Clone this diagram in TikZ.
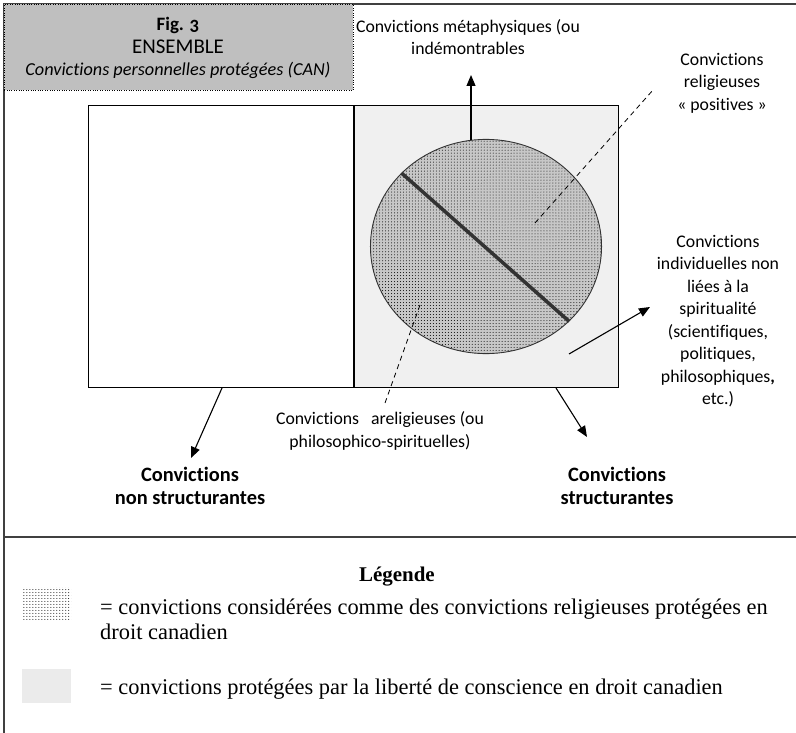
\documentclass[tikz,border=0pt]{standalone}
\usepackage{fontspec}
\setmainfont{Liberation Serif}
\setsansfont[Ligatures=NoCommon]{Carlito}
\usetikzlibrary{patterns}
\usetikzlibrary{shapes.geometric}
\usetikzlibrary{arrows.meta}

\tikzset{
  txt/.style={font=\sffamily\fontsize{17.8}{22.6}\selectfont,align=center,inner sep=0pt},
  bigtxt/.style={font=\sffamily\bfseries\fontsize{20.5}{23}\selectfont,align=center,inner sep=0pt},
  legtxt/.style={font=\rmfamily\fontsize{22.5}{25}\selectfont,align=left,inner sep=0pt,anchor=west},
  arr/.style={-{Triangle[length=11bp,width=9bp]},line width=1.1bp},
  hint/.style={dashed,line width=0.8bp,dash pattern=on 5bp off 4bp},
  dotsfill/.style={preaction={fill=black!22},pattern=dots,pattern color=black}
}

\begin{document}
\begin{tikzpicture}[x=1bp,y=-1bp]
  \useasboundingbox (0,0) rectangle (796,733);

  %frame
  \draw[line width=1.3bp,black!75] (4,733) -- (4,4) -- (796,4);
  \draw[line width=1.3bp,black!75] (4,537) -- (796,537);

  %title box
  \node[draw,dotted,fill=black!25,minimum width=350,minimum height=86,anchor=north west,inner sep=0pt] (title) at (4,4) {};
  \node[txt,font=\sffamily\bfseries\fontsize{19}{20}\selectfont] (fig) at (178,25) {Fig. {\addfontfeatures{Numbers=OldStyle}3}};
  \node[txt,font=\sffamily\fontsize{21}{20}\selectfont] (ens) at (178,47) {ENSEMBLE};
  \node[txt,font=\sffamily\itshape\fontsize{18.3}{20}\selectfont] (can) at (178,70) {Convictions personnelles protégées (CAN)};

  %left box
  \node[draw,line width=1.2bp,minimum width=266,minimum height=283,anchor=north west,inner sep=0pt] (nonstruct) at (88,105) {};

  %right box
  \node[draw,line width=1.2bp,fill=black!6,minimum width=265,minimum height=283,anchor=north west,inner sep=0pt] (struct) at (354,105) {};

  %circle
  \node[ellipse,draw,line width=0.9bp,black!80,dotsfill,minimum width=232,minimum height=215,inner sep=0pt] (ell) at (486,246.5) {};
  \draw[line width=3.5bp,black!80] (ell.139) -- (ell.-42);

  %labels
  \node[txt] (meta) at (468,37) {Convictions métaphysiques (ou\\indémontrables};
  \node[txt] (relig) at (722,83) {Convictions\\religieuses\\« positives »};
  \node[txt] (indiv) at (718,321) {Convictions\\individuelles non\\liées à la\\spiritualité\\(scientifiques,\\politiques,\\philosophiques\textbf{,}\\etc.)};
  \node[txt] (arelig) at (380,431) {Convictions\ \ \ areligieuses (ou\\philosophico-spirituelles)};
  \node[bigtxt] (nsl) at (190,486) {Convictions\\non structurantes};
  \node[bigtxt] (sl) at (617,486) {Convictions\\structurantes};

  %arrows
  \coordinate (upTip) at (470,75);
  \draw[arr] (ell.98) -- (ell.98 |- upTip);
  \coordinate (indivFrom) at (569,354);
  \coordinate (indivTip) at (650,307);
  \draw[arr] (indivFrom) -- (indivTip);
  \coordinate (nsFrom) at (222,388);
  \coordinate (nsTip) at (191,458);
  \draw[arr] (nsFrom) -- (nsTip);
  \coordinate (sFrom) at (556,388);
  \coordinate (sTip) at (587,437);
  \draw[arr] (sFrom) -- (sTip);

  %dashed hints
  \coordinate (religIn) at (535,223);
  \coordinate (religOut) at (653,90);
  \draw[hint] (religIn) -- (religOut);
  \coordinate (areligIn) at (420,305);
  \coordinate (areligOut) at (385,403);
  \draw[hint] (areligIn) -- (areligOut);

  %legend
  \node[font=\rmfamily\bfseries\fontsize{21}{25}\selectfont,inner sep=0pt] (leg) at (397,577) {Légende};
  \node[pattern=dots,pattern color=black,minimum width=49,minimum height=34,anchor=north west,inner sep=0pt] (legdots) at (22,587) {};
  \node[legtxt] (legdotstxt) at (100,619) {= convictions considérées comme des convictions religieuses protégées en\\droit canadien};
  \node[fill=black!8,minimum width=49,minimum height=34,anchor=north west,inner sep=0pt] (leggray) at (22,669) {};
  \node[legtxt] (leggraytxt) at (100,689) {= convictions protégées par la liberté de conscience en droit canadien};
\end{tikzpicture}
\end{document}
